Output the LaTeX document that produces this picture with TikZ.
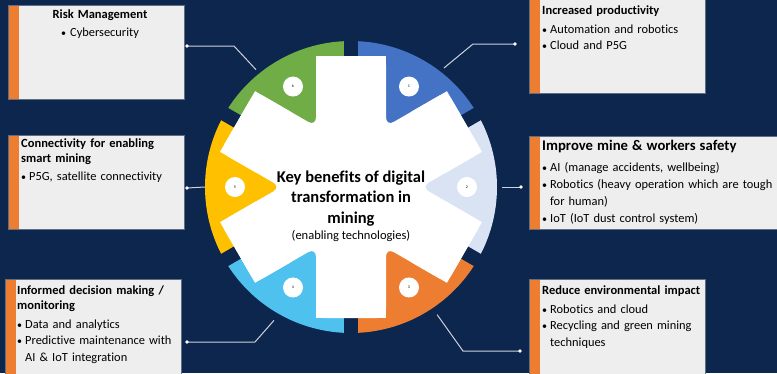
\documentclass[tikz,border=0pt]{standalone}
\usepackage{fontspec}
\setmainfont{Carlito}[Ligatures=NoCommon]
\usetikzlibrary{positioning}
\definecolor{navy}{RGB}{12,38,78}
\definecolor{boxgray}{RGB}{238,238,238}
\definecolor{boxedge}{RGB}{96,110,132}
\definecolor{barorange}{RGB}{237,125,49}
\definecolor{segblue}{RGB}{68,114,196}
\definecolor{seglight}{RGB}{218,227,243}
\definecolor{segorange}{RGB}{237,125,49}
\definecolor{segcyan}{RGB}{79,193,239}
\definecolor{segyellow}{RGB}{255,192,0}
\definecolor{seggreen}{RGB}{112,173,71}
\definecolor{linkgray}{RGB}{205,210,218}
\newcommand\boxhead{\bfseries\fontsize{12.5}{15}\selectfont}
\newcommand\bitem{\makebox[8pt][l]{\fontsize{10}{10}\selectfont\textbullet}}
\tikzset{
  infobox/.style={
    fill=boxgray, draw=boxedge, line width=0.6pt,
    minimum width=176pt, minimum height=94pt, inner sep=0,
    path picture={\fill[barorange] (path picture bounding box.south west)
      rectangle ([xshift=11pt]path picture bounding box.north west);}
  },
  boxtext/.style={anchor=north west, inner sep=0, align=left, text width=234pt,
    font=\fontsize{12.4}{16.5}\selectfont,
    execute at begin node=\setlength{\parindent}{0pt}},
  link/.style={draw=linkgray, line width=1pt},
  numdot/.style={circle, fill=white, minimum size=20pt, inner sep=0,
    font=\fontsize{4}{4}\selectfont}
}

\begin{document}
\begin{tikzpicture}[x=1pt,y=-1pt]
  \useasboundingbox (0,0) rectangle (777,373);
  \fill[navy] (0,0) rectangle (777,373);

  % ring of six segments
  \begin{scope}[shift={(351,187)}, y=1pt]
    \foreach \ang/\col in {60/segblue, 0/seglight, -60/segorange,
                           -120/segcyan, 180/segyellow, 120/seggreen}
      \fill[\col] (0,0) -- (\ang-30:146)
        arc[start angle=\ang-30, end angle=\ang+30, radius=146] -- cycle;
    \foreach \gap in {30,90,...,330}
      \fill[navy, rotate=\gap] (100,-7) rectangle (150,7);
    \fill[white, rounded corners=9pt] ([rotate=30]131,-35)
      \foreach \a in {30,90,...,270} { -- ([rotate=\a]131,35) -- (\a+30:70)
        -- ([rotate=\a+60]131,-35) }
      -- ([rotate=330]131,35) -- (0:70) -- cycle;
    \foreach \gap in {30,90,...,330}
      \fill[white, rotate=\gap] (90,-35) rectangle (131,35);
    \foreach \ang/\num in {60/1, 0/2, -60/3, -120/4, 180/5, 120/6}
      \node[numdot] (seg\num) at (\ang:116) {\num};
    \coordinate (rim1) at (52:151);
    \coordinate (rim2) at (0:151);
    \coordinate (rim3) at (-56:154);
    \coordinate (rim4) at (240:154);
    \coordinate (rim5) at (180:146);
    \coordinate (rim6) at (129:151);
  \end{scope}

  \node[font=\bfseries\fontsize{16.5}{20}\selectfont, align=center, inner sep=0]
    (hub) at (351,199) {Key benefits of digital\\transformation in\\[1pt]mining};
  \node[font=\fontsize{12.5}{14}\selectfont, inner sep=0, below=3pt of hub]
    (hub-sub) {(enabling technologies)};

  % boxes
  \node[infobox] (risk) at (96,52) {};
  \node[infobox] (prod) at (617,46) {};
  \node[infobox] (conn) at (96,182) {};
  \node[infobox, minimum width=250pt, minimum height=93pt] (safe) at (654,182.5) {};
  \node[infobox, minimum height=96pt] (dec) at (93,327) {};
  \node[infobox, minimum height=96pt] (env) at (617,327) {};

  \node[boxtext, anchor=north, align=center, text width=170pt] (risk-text) at (100,10)
    {{\boxhead Risk Management\par}\vspace{1pt}{\fontsize{10}{10}\selectfont\textbullet}~Cybersecurity};
  \node[boxtext] (prod-text) at (542,6)
    {{\boxhead Increased productivity\par}\vspace{2pt}
     \bitem Automation and robotics\par
     \bitem Cloud and P5G};
  \node[boxtext] (conn-text) at (21,139)
    {{\boxhead Connectivity for enabling\\smart mining\par}\vspace{1pt}
     \bitem P5G, satellite connectivity};
  \node[boxtext] (safe-text) at (542,140)
    {{\bfseries\fontsize{14.7}{17}\selectfont Improve mine \& workers safety\par}\vspace{4pt}
     \bitem AI (manage accidents, wellbeing)\par\vspace{1pt}
     \bitem Robotics (heavy operation which are tough\\\hspace*{8pt}for human)\par\vspace{1pt}
     \bitem IoT (IoT dust control system)};
  \node[boxtext] (dec-text) at (17,286)
    {{\boxhead Informed decision making /\\monitoring\par}\vspace{2pt}
     \bitem Data and analytics\par
     \bitem Predictive maintenance with\\\hspace*{8pt}AI \& IoT integration};
  \node[boxtext] (env-text) at (542,286)
    {{\boxhead Reduce environmental impact\par}\vspace{2pt}
     \bitem Robotics and cloud\par
     \bitem Recycling and green mining\\\hspace*{8pt}techniques};

  % connectors
  \coordinate (risk-pin) at (187,46);
  \coordinate (risk-knee) at (234,46);
  \coordinate (prod-pin) at (515,44);
  \coordinate (prod-knee) at (473,44);
  \coordinate (conn-pin) at (187,188);
  \coordinate (safe-pin) at (521,187);
  \coordinate (dec-pin) at (187,342);
  \coordinate (dec-knee) at (255,342);
  \coordinate (env-pin) at (520,351);
  \coordinate (env-knee) at (463,351);
  \draw[link] (risk-pin) -- (risk-knee) -- (rim6);
  \draw[link] (rim1) -- (prod-knee) -- (prod-pin);
  \draw[link] (conn-pin) -- (rim5);
  \draw[link] (rim2) -- (safe-pin);
  \draw[link] (dec-pin) -- (dec-knee) -- (rim4);
  \draw[link] (rim3) -- (env-knee) -- (env-pin);
  \foreach \p in {risk,prod,conn,safe,dec,env}
    \fill[white] (\p-pin) circle (1.8pt);
\end{tikzpicture}
\end{document}
